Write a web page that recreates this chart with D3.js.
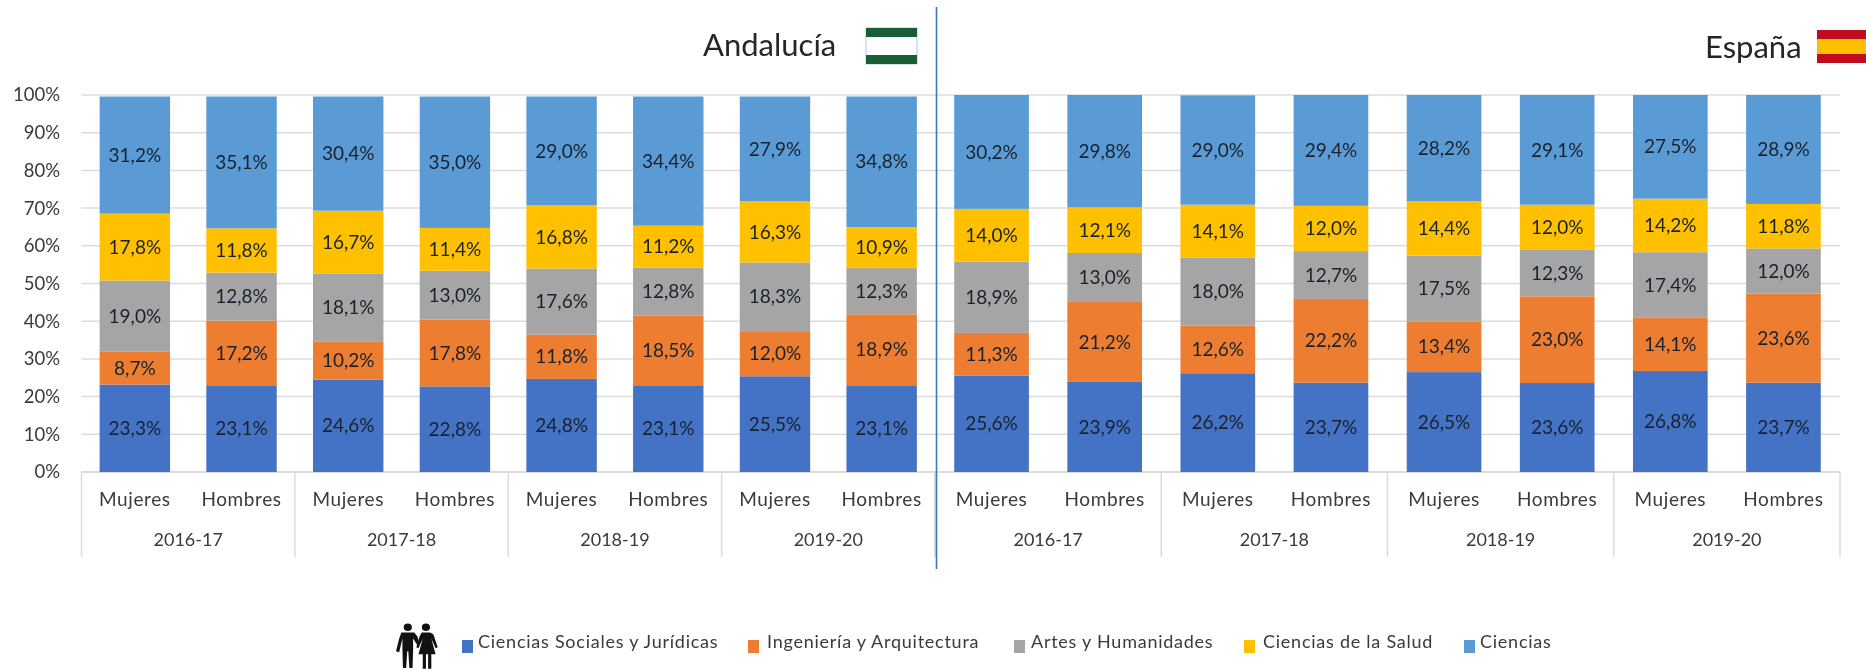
<!DOCTYPE html>
<html lang="es"><head><meta charset="utf-8">
<script src="https://cdn.jsdelivr.net/npm/d3@7"></script>
<style>
html,body{margin:0;padding:0;background:#fff}
svg{display:block;font-family:Lato,"Open Sans",sans-serif;filter:blur(0.45px)}
</style></head><body><svg id="c" width="1866" height="670"></svg>
<script>
const years = ["2016-17","2017-18","2018-19","2019-20"];
const genders = ["Mujeres","Hombres"];
const seriesNames = ["Ciencias Sociales y Jurídicas","Ingeniería y Arquitectura","Artes y Humanidades","Ciencias de la Salud","Ciencias"];
const colors = ["#4472c4","#ed7d31","#a5a5a5","#ffc000","#5b9bd5"];
const yTicks = [0,10,20,30,40,50,60,70,80,90,100];

const andSociales = [23.3,23.1,24.6,22.8,24.8,23.1,25.5,23.1];
const andIngenieria = [8.7,17.2,10.2,17.8,11.8,18.5,12.0,18.9];
const andArtes = [19.0,12.8,18.1,13.0,17.6,12.8,18.3,12.3];
const andSalud = [17.8,11.8,16.7,11.4,16.8,11.2,16.3,10.9];
const andCiencias = [31.2,35.1,30.4,35.0,29.0,34.4,27.9,34.8];

const espSociales = [25.6,23.9,26.2,23.7,26.5,23.6,26.8,23.7];
const espIngenieria = [11.3,21.2,12.6,22.2,13.4,23.0,14.1,23.6];
const espArtes = [18.9,13.0,18.0,12.7,17.5,12.3,17.4,12.0];
const espSalud = [14.0,12.1,14.1,12.0,14.4,12.0,14.2,11.8];
const espCiencias = [30.2,29.8,29.0,29.4,28.2,29.1,27.5,28.9];

const svg = d3.select("#c");
const axisColor = "#dcdcdc", textColor = "#3a3a3a", labelColor = "#18222e";
const y0 = 472, y100 = 95, left = 81.5, mid = 935, right = 1840;
const y = d3.scaleLinear().domain([0,100]).range([y0,y100]);
const yAnd = d3.scaleLinear().domain([0,100]).range([y0,96.5]);

const yAxis = d3.axisLeft(y).tickValues(yTicks).tickSize(0).tickPadding(21.5).tickFormat(d=>d+"%");
const gy = svg.append("g").attr("transform",`translate(${left},0)`).call(yAxis);
gy.select(".domain").remove();
gy.selectAll("text").attr("font-size",18.5).attr("fill",textColor).attr("font-family","Lato,sans-serif");
svg.append("g").selectAll("line").data(yTicks).join("line")
  .attr("x1",left).attr("x2",right).attr("y1",d=>y(d)).attr("y2",d=>y(d))
  .attr("stroke",axisColor).attr("stroke-width",d=>d===0?2:1.5);

function panel(x0,x1,rows,side,ys){
  const keys = d3.range(8);
  const x = d3.scaleBand().domain(keys).range([x0,x1]).paddingInner(0.34).paddingOuter(0.17);
  const table = keys.map(i=>{const o={i};rows.forEach((r,k)=>o[k]=r[i]);return o;});
  const stack = d3.stack().keys(d3.range(rows.length))(table);
  const g = svg.append("g").attr("class","panel-"+side);
  stack.forEach((s,k)=>{
    g.append("g").selectAll("rect").data(s).join("rect")
      .attr("x",d=>x(d.data.i)).attr("width",x.bandwidth())
      .attr("y",d=>ys(d[1])).attr("height",d=>ys(d[0])-ys(d[1]))
      .attr("fill",colors[k]);
    g.append("g").selectAll("text").data(s).join("text")
      .attr("x",d=>x(d.data.i)+x.bandwidth()/2).attr("y",d=>ys((d[0]+d[1])/2))
      .attr("dy","0.35em").attr("text-anchor","middle").attr("font-size",19).attr("fill",labelColor)
      .text(d=>(d[1]-d[0]).toFixed(1).replace(".",",")+"%");
  });
  g.append("g").selectAll("text").data(keys).join("text")
    .attr("x",d=>x(d)+x.bandwidth()/2).attr("y",499).attr("dy","0.35em").attr("text-anchor","middle")
    .attr("font-size",19).attr("letter-spacing",0.6).attr("fill",textColor).text(d=>genders[d%2]);
  const gw = (x1-x0)/years.length;
  g.append("g").selectAll("text").data(years).join("text")
    .attr("x",(d,i)=>x0+gw*(i+.5)).attr("y",540).attr("dy","0.35em").attr("text-anchor","middle")
    .attr("font-size",18).attr("fill",textColor).text(d=>d);
  g.append("g").selectAll("line").data(d3.range(years.length+1)).join("line")
    .attr("x1",i=>x0+gw*i).attr("x2",i=>x0+gw*i).attr("y1",y0).attr("y2",557)
    .attr("stroke",axisColor).attr("stroke-width",1.5);
}
panel(left,mid,[andSociales,andIngenieria,andArtes,andSalud,andCiencias],"and",yAnd);
panel(mid,right,[espSociales,espIngenieria,espArtes,espSalud,espCiencias],"esp",y);

svg.append("line").attr("x1",936.5).attr("x2",936.5).attr("y1",7).attr("y2",569).attr("stroke","#4472c4").attr("stroke-width",1.6);

svg.append("text").attr("x",703).attr("y",56).attr("font-size",31).attr("fill","#262626").text("Andalucía");
svg.append("text").attr("x",1705).attr("y",58).attr("font-size",31).attr("fill","#262626").text("España");
const fa = svg.append("g");
fa.append("rect").attr("x",866).attr("y",28).attr("width",51).attr("height",36).attr("fill","#fff").attr("stroke","#b4c7e7");
fa.append("rect").attr("x",866).attr("y",28).attr("width",51).attr("height",9).attr("fill","#1a5e38");
fa.append("rect").attr("x",866).attr("y",55).attr("width",51).attr("height",9).attr("fill","#1a5e38");
const fe = svg.append("g");
fe.append("rect").attr("x",1817).attr("y",30).attr("width",49).attr("height",33).attr("fill","#c00d1e");
fe.append("rect").attr("x",1817).attr("y",39).attr("width",49).attr("height",15).attr("fill","#ffc000");

const ic = svg.append("g").attr("fill","#111").attr("transform","translate(396,623.5) scale(1.07,0.98) translate(-394,-622.7)");
ic.append("circle").attr("cx",405).attr("cy",626.5).attr("r",3.8);
ic.append("circle").attr("cx",422).attr("cy",626.5).attr("r",3.8);
ic.append("path").attr("d","M399 632h12l3 4 2 8-2 1-4-7v11l-.5 19h-3l-1-17h-1l-1 17h-3l-.5-19v-11l-3 14-3-1 3-13z");
ic.append("path").attr("d","M418 632h8l3 2 4 13-2 1-4-10 4 16h-4v15h-3v-15h-2v15h-3v-15h-4l4-16-4 10-2-1 3-11z");

const legendX = [462,748,1014,1244,1464];
const lg = svg.append("g").selectAll("g").data(seriesNames).join("g")
  .attr("transform",(d,i)=>`translate(${legendX[i]},640)`);
lg.append("rect").attr("width",11).attr("height",13).attr("fill",(d,i)=>colors[i]);
lg.append("text").attr("x",(d,i)=>i===0?16:i===1?19:i===2?17:i===3?19:16).attr("y",1.5).attr("dy","0.35em")
  .attr("font-size",18).attr("letter-spacing",0.75).attr("fill",textColor).text(d=>d);
</script></body></html>
